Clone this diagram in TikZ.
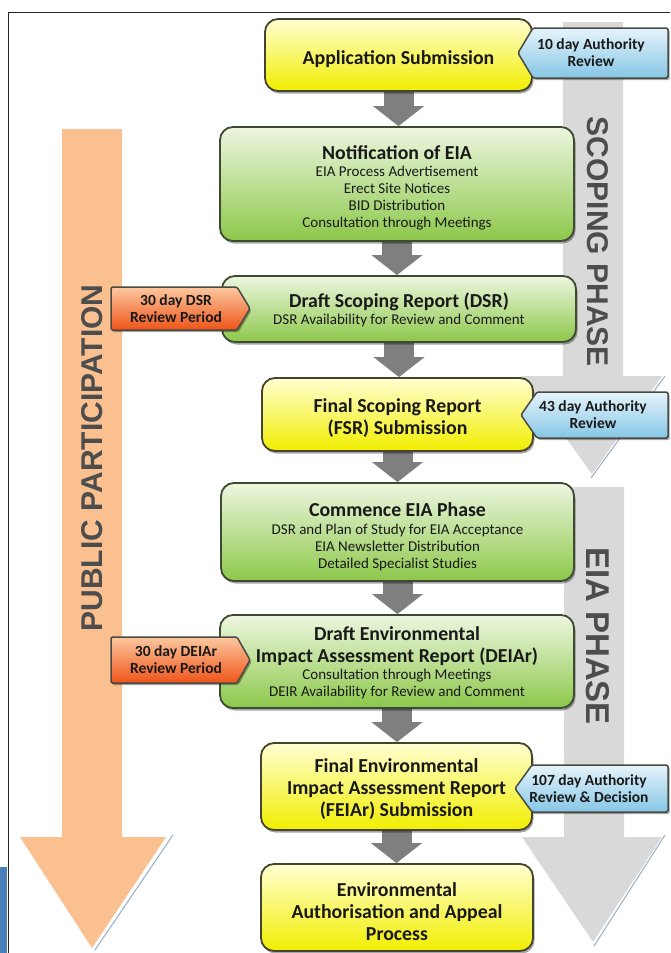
\documentclass[tikz,border=0pt]{standalone}
\usepackage{fontspec}
\setmainfont{Carlito}
\newfontfamily\phasefont{Liberation Sans}
\usetikzlibrary{arrows.meta,shadows,backgrounds}
\definecolor{ytop}{HTML}{FFFFD2}
\definecolor{ybot}{HTML}{F2EE00}
\definecolor{ybord}{HTML}{45452E}
\definecolor{gtop}{HTML}{EDF6E0}
\definecolor{gbot}{HTML}{8CC84A}
\definecolor{gbord}{HTML}{3E4A32}
\definecolor{btop}{HTML}{E6F4FB}
\definecolor{bbot}{HTML}{86C6E6}
\definecolor{otop}{HTML}{FDC8A0}
\definecolor{obot}{HTML}{EE5418}
\definecolor{tagbord}{HTML}{4A4A42}
\definecolor{orangearrow}{HTML}{FAC090}
\definecolor{grayarrow}{HTML}{D9D9D9}
\definecolor{connector}{HTML}{7F7F7F}
\definecolor{phasetext}{HTML}{4D4D4D}
\definecolor{edgeline}{HTML}{9AAFC6}
\definecolor{sidebar}{HTML}{4A7EBB}
\newcommand\boxtitle{\fontsize{19.8}{22}\selectfont\bfseries}
\newcommand\boxsub{\fontsize{15}{17}\selectfont\mdseries}
\newcommand\boxtext[3][8pt]{\parbox{#2}{\vspace*{#1}\centering #3}}
\begin{document}
\begin{tikzpicture}[x=1pt,y=1pt,
  box/.style={rounded corners=13pt, line width=1.8pt, inner sep=2pt,
    text=black!90, drop shadow={shadow xshift=1.5pt, shadow yshift=-2.5pt, opacity=0.35, fill=black}},
  ybox/.style={box, draw=ybord, top color=ytop, bottom color=ybot},
  gbox/.style={box, draw=gbord, top color=gtop, bottom color=gbot},
  btag/.style={draw=tagbord, line width=1.5pt, rounded corners=1.5pt, top color=btop, bottom color=bbot,
    drop shadow={shadow xshift=1.5pt, shadow yshift=-2pt, opacity=0.35, fill=black}},
  otag/.style={draw=tagbord, line width=1.5pt, rounded corners=1.5pt, top color=otop, bottom color=obot,
    drop shadow={shadow xshift=1.5pt, shadow yshift=-2pt, opacity=0.35, fill=black}},
  tagtext/.style={align=center, font=\fontsize{15.5}{17}\selectfont\bfseries, text=black!90, inner sep=0pt},
  conn/.style={connector, line width=30pt, -{Triangle[width=50pt,length=20pt]}},
  phase/.style={text=phasetext, font=\phasefont\fontsize{30}{32}\selectfont\bfseries, inner sep=0pt},
  edge/.style={edgeline, line width=1pt}
]
\useasboundingbox (0,0) rectangle (670,-953);

% main boxes
\node[ybox, minimum width=267pt, minimum height=72pt] (app) at (398.5,-55)
  {\boxtext{260pt}{\boxtitle Application Submission}};
\node[gbox, minimum width=354pt, minimum height=114pt] (notif) at (397,-184)
  {\boxtext{340pt}{\boxtitle Notification of EIA\par
   \boxsub EIA Process Advertisement\par Erect Site Notices\par BID Distribution\par Consultation through Meetings}};
\node[gbox, minimum width=354pt, minimum height=66pt] (dsr) at (399,-309)
  {\boxtext[2pt]{340pt}{\boxtitle Draft Scoping Report (DSR)\par
   \boxsub DSR Availability for Review and Comment}};
\node[ybox, minimum width=271pt, minimum height=73pt] (fsr) at (397.5,-414.5)
  {\boxtext{260pt}{\boxtitle Final Scoping Report\par (FSR) Submission}};
\node[gbox, minimum width=353pt, minimum height=98pt] (eia) at (397.5,-532)
  {\boxtext[10pt]{340pt}{\boxtitle Commence EIA Phase\par\vspace{1pt}
   \boxsub DSR and Plan of Study for EIA Acceptance\par EIA Newsletter Distribution\par Detailed Specialist Studies}};
\node[gbox, minimum width=354pt, minimum height=93pt] (deiar) at (397,-661.5)
  {\boxtext[2pt]{340pt}{\boxtitle Draft Environmental\par Impact Assessment Report (DEIAr)\par
   \boxsub Consultation through Meetings\par DEIR Availability for Review and Comment}};
\node[ybox, minimum width=271pt, minimum height=87pt] (feiar) at (396.5,-786.5)
  {\boxtext[6pt]{260pt}{\boxtitle Final Environmental\par Impact Assessment Report\par (FEIAr) Submission}};
\node[ybox, minimum width=272pt, minimum height=87pt] (auth) at (397,-907.5)
  {\boxtext{260pt}{\boxtitle Environmental\par Authorisation and Appeal\par Process}};

% tags
\shade[btag] (518,-53) -- (533,-28) -- (668,-28) -- (668,-78) -- (533,-78) -- cycle;
\node[tagtext] (t1) at (591,-53) {10 day Authority\\Review};
\shade[btag] (521,-415) -- (537,-392) -- (668,-392) -- (668,-438) -- (537,-438) -- cycle;
\node[tagtext] (t2) at (593,-415) {43 day Authority\\Review};
\shade[btag] (515,-788.5) -- (532,-765) -- (668,-765) -- (668,-812) -- (532,-812) -- cycle;
\node[tagtext] (t3) at (589,-788.5) {107 day Authority\\Review \& Decision};
\shade[otag] (111,-287) -- (237,-287) -- (250,-308.5) -- (237,-330) -- (111,-330) -- cycle;
\node[tagtext] (o1) at (176,-308.5) {30 day DSR\\Review Period};
\shade[otag] (111,-637) -- (237,-637) -- (250,-660) -- (237,-683) -- (111,-683) -- cycle;
\node[tagtext] (o2) at (176,-660) {30 day DEIAr\\Review Period};

\begin{scope}[on background layer]
  \fill[white] (0,0) rectangle (670,-953);
  % frame
  \fill[sidebar] (0,-867) rectangle (6.5,-953);
  \draw[black!85, line width=1.5pt] (8.5,-953) -- (8.5,-12.5) -- (670,-12.5);
  % public participation arrow
  \fill[orangearrow] (62,-129) -- (122,-129) -- (122,-837) -- (166,-837) -- (92,-948)
     -- (20,-837) -- (62,-837) -- cycle;
  \draw[edge] (173,-835) -- (95,-950);
  % scoping phase arrow
  \fill[grayarrow] (563,-22) -- (623,-22) -- (623,-376) -- (662,-376) -- (592,-474)
     -- (521,-376) -- (563,-376) -- cycle;
  \draw[edge] (665,-376) -- (591,-478);
  % EIA phase arrow
  \fill[grayarrow] (564,-487) -- (624,-487) -- (624,-837) -- (662,-837) -- (593,-942)
     -- (522,-837) -- (564,-837) -- cycle;
  \draw[edge] (665,-835) -- (594,-946);
  % connectors
  \draw[conn] (app.south) -- (app.south |- notif.north);
  \draw[conn] (notif.south) -- (notif.south |- dsr.north);
  \draw[conn] (dsr.south) -- (dsr.south |- fsr.north);
  \draw[conn] (fsr.south) -- (fsr.south |- eia.north);
  \draw[conn] (eia.south) -- (eia.south |- deiar.north);
  \draw[conn] (deiar.south) -- (deiar.south |- feiar.north);
  \draw[conn] (feiar.south) -- (feiar.south |- auth.north);
\end{scope}

% phase labels
\node[phase, rotate=-90] (scp) at (598,-242) {SCOPING PHASE};
\node[phase, rotate=-90, font=\phasefont\fontsize{33}{35}\selectfont\bfseries] (eph) at (598,-636) {EIA PHASE};
\node[phase, rotate=90] (pp) at (92,-458) {PUBLIC PARTICIPATION};
\end{tikzpicture}
\end{document}
